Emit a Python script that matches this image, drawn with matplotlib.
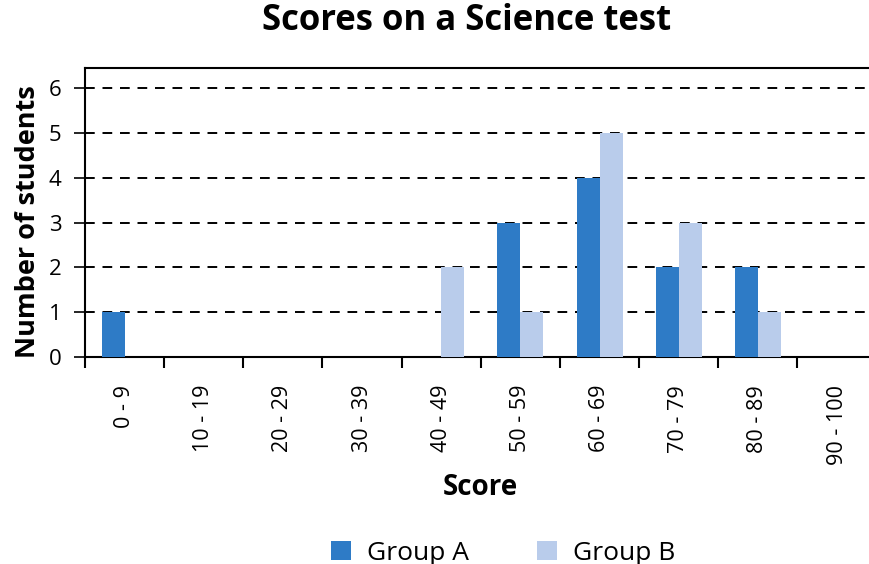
import numpy as np
import matplotlib
matplotlib.use('Agg')
from matplotlib import pyplot as plt

# data
categories = ['0 - 9', '10 - 19', '20 - 29', '30 - 39', '40 - 49',
              '50 - 59', '60 - 69', '70 - 79', '80 - 89', '90 - 100']
group_a = [1, 0, 0, 0, 0, 3, 4, 2, 2, 0]
group_b = [0, 0, 0, 0, 2, 1, 5, 3, 1, 0]
y_ticks = [0, 1, 2, 3, 4, 5, 6]

plt.rcParams['font.family'] = ['Open Sans', 'DejaVu Sans']

fig = plt.figure(figsize=(8.69, 5.64), dpi=100)
ax = fig.add_axes([0.0978, 0.367, 0.911, 0.512])

x = np.arange(len(categories))
w = 0.29
ax.bar(x - w / 2, group_a, w, color='#2E7BC6', label='Group A', zorder=3)
ax.bar(x + w / 2, group_b, w, color='#B9CCEB', label='Group B', zorder=3)

ax.set_xlim(-0.5, len(categories) - 0.5)
ax.set_ylim(0, 6.45)
ax.set_yticks(y_ticks)
ax.tick_params(axis='y', length=8, width=1.2, labelsize=16, pad=9)

# category labels at centres, tick marks at the boundaries
ax.set_xticks(x)
ax.set_xticklabels(categories, rotation=90, fontsize=15.5, va='top')
ax.tick_params(axis='x', which='major', length=0, pad=20)
ax.set_xticks(np.arange(len(categories) + 1) - 0.5, minor=True)
ax.tick_params(axis='x', which='minor', length=8, width=1.5)

ax.grid(axis='y', color='black', linestyle=(0, (5, 4)), linewidth=1.4, zorder=0)
for s in ['left', 'top', 'bottom']:
    ax.spines[s].set_linewidth(1.5)
ax.spines['right'].set_visible(False)

ax.set_ylabel('Number of students', fontsize=19.5, fontweight='bold')
ax.yaxis.set_label_coords(-0.056, 0.47)
ax.set_xlabel('Score', fontsize=20, fontweight='bold', labelpad=6)
fig.suptitle('Scores on a Science test', fontsize=25, fontweight='bold', x=0.537, y=0.995)

fig.legend(loc='lower center', bbox_to_anchor=(0.579, -0.045), ncol=2, frameon=False,
           fontsize=19, handlelength=0.75, handleheight=0.75, handletextpad=0.6,
           columnspacing=2.6)

fig.savefig('out.png', dpi=100)
